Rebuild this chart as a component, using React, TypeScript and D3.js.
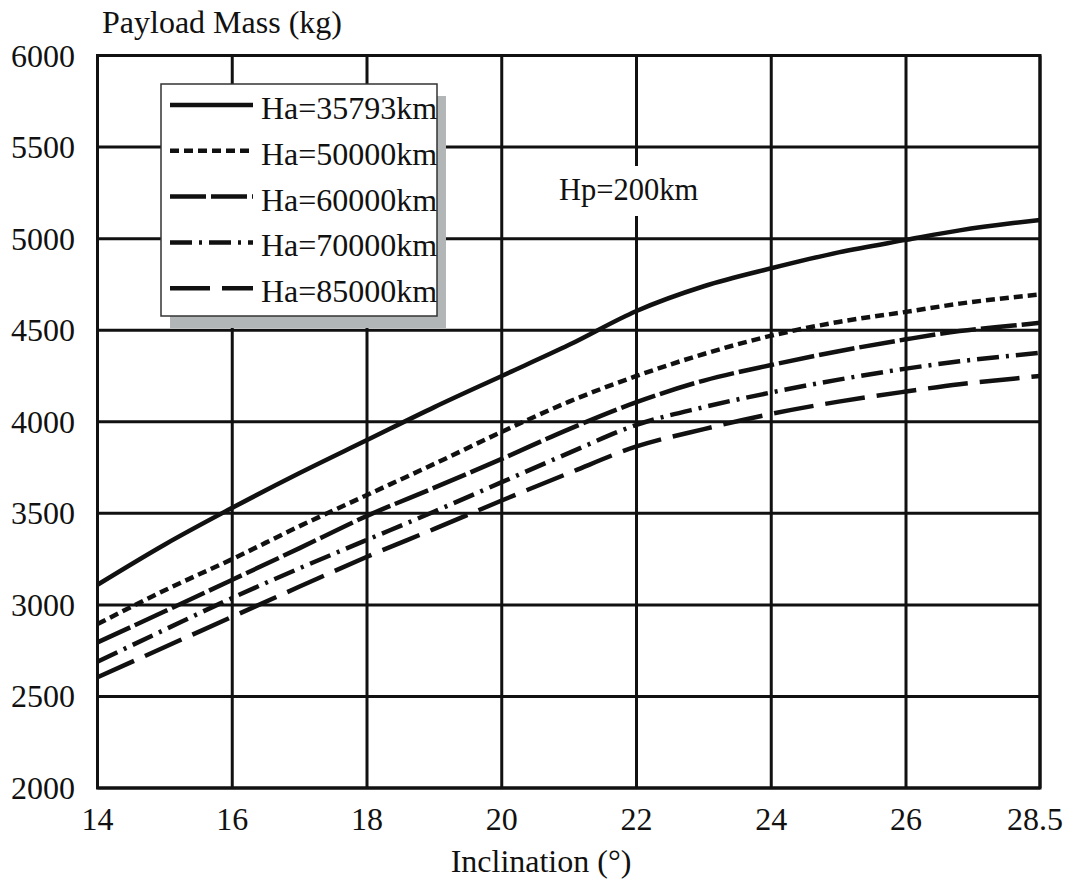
import { useEffect, useRef } from 'react';
import * as d3 from 'd3';

const inclination = [14, 15, 16, 17, 18, 19, 20, 21, 22, 23, 24, 25, 26, 27, 28, 28.5];

const ha35793 = [3110, 3330, 3530, 3720, 3900, 4080, 4250, 4420, 4605, 4740, 4838, 4925, 4993, 5045, 5085, 5102];
const ha50000 = [2895, 3080, 3250, 3430, 3600, 3770, 3945, 4110, 4250, 4370, 4470, 4545, 4600, 4645, 4680, 4695];
const ha60000 = [2795, 2965, 3137, 3310, 3486, 3640, 3797, 3960, 4107, 4225, 4310, 4385, 4450, 4495, 4525, 4540];
const ha70000 = [2690, 2865, 3038, 3200, 3355, 3510, 3670, 3830, 3983, 4080, 4160, 4230, 4290, 4330, 4362, 4376];
const ha85000 = [2605, 2770, 2935, 3100, 3263, 3415, 3570, 3720, 3865, 3960, 4043, 4110, 4165, 4205, 4235, 4250];

const seriesNames = ['Ha=35793km', 'Ha=50000km', 'Ha=60000km', 'Ha=70000km', 'Ha=85000km'];
const seriesValues = [ha35793, ha50000, ha60000, ha70000, ha85000];
const dashes = ['none', '9,5', '36,5', '22,7,3,7', '40,12'];

const xTicks = [14, 16, 18, 20, 22, 24, 26, 28.5];
const yTicks = [2000, 2500, 3000, 3500, 4000, 4500, 5000, 5500, 6000];

const FONT = '"Liberation Serif", "Times New Roman", serif';

export default function App() {
  const svgRef = useRef<SVGSVGElement>(null);

  useEffect(() => {
    if (!svgRef.current) return;
    const svg = d3.select(svgRef.current);
    svg.selectAll('*').remove();

    const left = 97.5, right = 1040, top = 55.5, bottom = 788;

    // last interval (26 -> 28.5) is drawn the same width as the others
    const x = d3.scaleLinear().domain([14, 26, 28.5]).range([left, 906, right]);
    const y = d3.scaleLinear().domain([2000, 6000]).range([bottom, top]);

    const ink = '#111';

    // grid
    const grid = svg.append('g');
    yTicks.forEach((t) => {
      grid.append('line')
        .attr('x1', left).attr('x2', right)
        .attr('y1', y(t)).attr('y2', y(t))
        .attr('stroke', ink).attr('stroke-width', 3);
    });
    xTicks.forEach((t) => {
      grid.append('line')
        .attr('x1', x(t)).attr('x2', x(t))
        .attr('y1', top).attr('y2', bottom)
        .attr('stroke', ink).attr('stroke-width', 3);
    });

    // tick labels
    svg.append('g').selectAll('text').data(yTicks).join('text')
      .attr('x', 75).attr('y', (d) => y(d) + 11)
      .attr('text-anchor', 'end')
      .attr('font-family', FONT).attr('font-size', 32).attr('fill', ink)
      .text((d) => d);

    svg.append('g').selectAll('text').data(xTicks).join('text')
      .attr('x', (d) => x(d) - (d === 28.5 ? 5 : 0)).attr('y', 830)
      .attr('text-anchor', 'middle')
      .attr('font-family', FONT).attr('font-size', 32).attr('fill', ink)
      .text((d) => d);

    svg.append('text')
      .attr('x', 102).attr('y', 33)
      .attr('font-family', FONT).attr('font-size', 32).attr('fill', ink)
      .text('Payload Mass (kg)');

    svg.append('text')
      .attr('x', 541).attr('y', 872)
      .attr('text-anchor', 'middle')
      .attr('font-family', FONT).attr('font-size', 32).attr('fill', ink)
      .text('Inclination (°)');

    // curves
    const line = d3.line<number>()
      .x((_, i) => x(inclination[i]))
      .y((d) => y(d))
      .curve(d3.curveMonotoneX);

    seriesValues.forEach((vals, i) => {
      svg.append('path')
        .attr('d', line(vals) as string)
        .attr('fill', 'none')
        .attr('stroke', ink)
        .attr('stroke-width', 4.5)
        .attr('stroke-dasharray', dashes[i]);
    });

    // annotation with white backing
    svg.append('rect')
      .attr('x', 552).attr('y', 166).attr('width', 152).attr('height', 50)
      .attr('fill', '#fff');
    svg.append('text')
      .attr('x', 559).attr('y', 200)
      .attr('font-family', FONT).attr('font-size', 30.5).attr('fill', ink)
      .text('Hp=200km');

    // legend
    const lg = svg.append('g');
    lg.append('rect')
      .attr('x', 170).attr('y', 96).attr('width', 276).attr('height', 232)
      .attr('fill', '#b3b6b6');
    lg.append('rect')
      .attr('x', 161).attr('y', 84).attr('width', 276).attr('height', 232)
      .attr('fill', '#fff').attr('stroke', '#333').attr('stroke-width', 1.5);

    seriesNames.forEach((name, i) => {
      const base = 119 + i * 45.8;
      lg.append('line')
        .attr('x1', 170).attr('x2', 253)
        .attr('y1', base - 14).attr('y2', base - 14)
        .attr('stroke', ink).attr('stroke-width', 4.5)
        .attr('stroke-dasharray', dashes[i]);
      lg.append('text')
        .attr('x', 261).attr('y', base)
        .attr('font-family', FONT).attr('font-size', 32).attr('fill', ink)
        .text(name);
    });

    // frame
    svg.append('rect')
      .attr('x', left).attr('y', top)
      .attr('width', right - left).attr('height', bottom - top)
      .attr('fill', 'none').attr('stroke', ink).attr('stroke-width', 3);
  }, []);

  return (
    <svg
      ref={svgRef}
      width={1069}
      height={883}
      style={{ position: 'absolute', left: 0, top: 0, background: '#fff' }}
    />
  );
}
